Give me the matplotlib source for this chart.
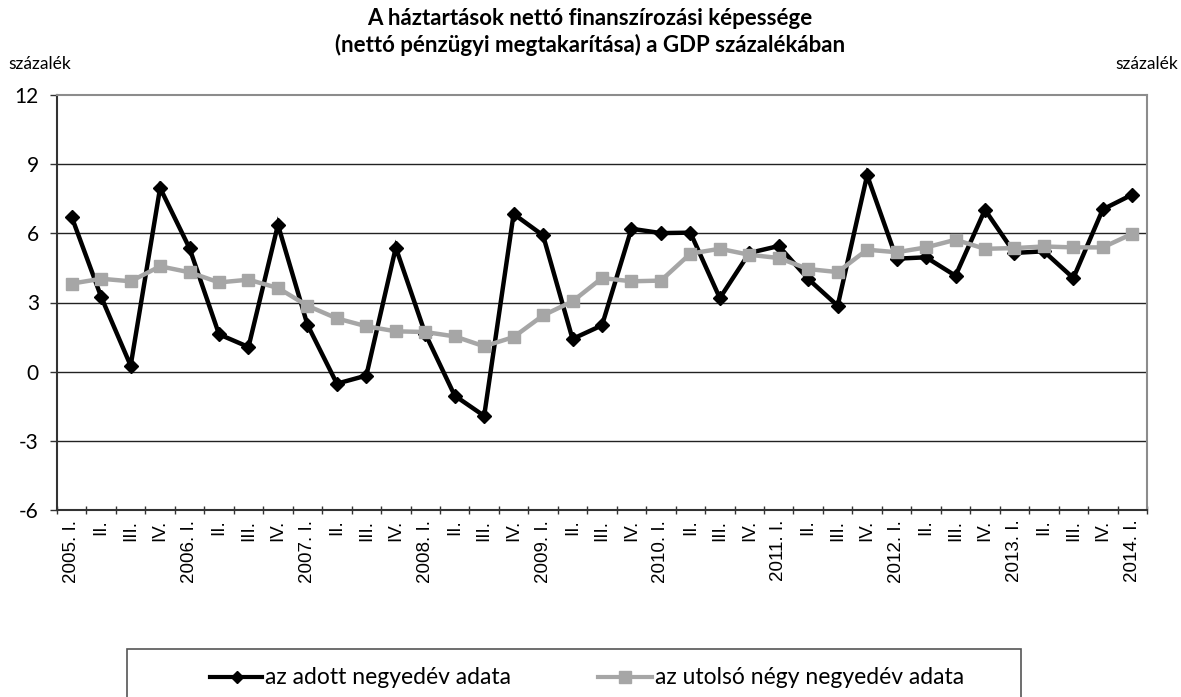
import matplotlib
matplotlib.use("Agg")
import matplotlib.pyplot as plt
from matplotlib.patches import Rectangle
from matplotlib.lines import Line2D

years = ["2005", "2006", "2007", "2008", "2009", "2010", "2011", "2012", "2013", "2014"]
quarters = ["I.", "II.", "III.", "IV."]
labels = []
for y in years:
    for q in quarters:
        labels.append(f"{y}. {q}" if q == "I." else q)
labels = labels[:37]

quarterly = [6.71, 3.24, 0.26, 7.97, 5.35, 1.62, 1.07, 6.37, 2.04, -0.52, -0.17, 5.38,
             1.65, -1.04, -1.92, 6.84, 5.91, 1.42, 2.01, 6.20, 6.01, 6.03, 3.19, 5.15,
             5.45, 4.02, 2.86, 8.52, 4.90, 4.96, 4.16, 7.02, 5.15, 5.22, 4.06, 7.04, 7.68]
four_q = [3.82, 4.03, 3.92, 4.57, 4.31, 3.87, 3.99, 3.63, 2.86, 2.31, 1.97, 1.75,
          1.72, 1.53, 1.10, 1.50, 2.44, 3.05, 4.06, 3.92, 3.95, 5.12, 5.33, 5.07,
          4.93, 4.45, 4.32, 5.29, 5.18, 5.39, 5.72, 5.33, 5.36, 5.43, 5.39, 5.39, 5.98]

series_names = ["az adott negyedév adata", "az utolsó négy negyedév adata"]
title = "A háztartások nettó finanszírozási képessége\n(nettó pénzügyi megtakarítása) a GDP százalékában"
yticks = [-6, -3, 0, 3, 6, 9, 12]

W, H = 1181, 697
fig = plt.figure(figsize=(W / 100, H / 100), dpi=100)
ax = fig.add_axes([57 / W, 1 - 510 / H, 1090 / W, 415 / H])

n = len(labels)
x = list(range(n))
ax.set_xlim(-0.5, n - 0.5)
ax.set_ylim(-6, 12)
for yv in yticks[1:-1]:
    ax.axhline(yv, color="#222222", lw=1.0, zorder=1)

black = "#000000"
gray = "#a6a6a6"
ax.plot(x, quarterly, color=black, lw=3.2, marker="D", ms=7, mfc=black, mec=black,
        zorder=3, solid_joinstyle="miter")
ax.plot(x, four_q, color=gray, lw=3.2, marker="s", ms=8.5, mfc=gray, mec=gray, zorder=4)

ax.set_yticks(yticks)
ax.set_yticklabels([str(v) for v in yticks], family="Lato", fontsize=15)
ax.tick_params(axis="y", length=5, width=1, color="#333333", pad=8)

ax.set_xticks(x)
ax.set_xticklabels(labels, rotation=90, family="Liberation Sans", fontsize=13.5, va="top", ha="center")
ax.tick_params(axis="x", length=0, pad=7)
ax.set_xticks([i - 0.5 for i in range(n + 1)], minor=True)
ax.tick_params(axis="x", which="minor", length=6, width=1, color="#333333", direction="inout")

ax.spines["top"].set_color("#8c8c8c")
ax.spines["right"].set_color("#8c8c8c")
ax.spines["left"].set_color("#333333")
ax.spines["bottom"].set_color("#333333")
for s in ax.spines.values():
    s.set_linewidth(1.5)

fig.text(590 / W, 1 - 32 / H, title, ha="center", va="center", family="Lato",
         fontweight="bold", fontsize=16, linespacing=1.25)
fig.text(8 / W, 1 - 64 / H, "százalék", ha="left", va="center", family="Lato", fontsize=12.5)
fig.text(1178 / W, 1 - 64 / H, "százalék", ha="right", va="center", family="Lato", fontsize=12.5)

# legend box
fig.patches.append(Rectangle((127 / W, -0.01), (1021 - 127) / W, (H - 649) / H + 0.01,
                             transform=fig.transFigure, fill=False, ec="#555555", lw=1.2))
ly = 1 - 677 / H
fig.add_artist(Line2D([210 / W, 262 / W], [ly, ly], color=black, lw=3.0))
fig.add_artist(Line2D([237 / W], [ly], color=black, marker="D", ms=6))
fig.text(265 / W, ly, series_names[0], ha="left", va="center", family="Lato", fontsize=16.5)
fig.add_artist(Line2D([598 / W, 652 / W], [ly, ly], color=gray, lw=3.0))
fig.add_artist(Line2D([625 / W], [ly], color=gray, marker="s", ms=8))
fig.text(655 / W, ly, series_names[1], ha="left", va="center", family="Lato", fontsize=16.5)

fig.savefig("out.png", dpi=100)
